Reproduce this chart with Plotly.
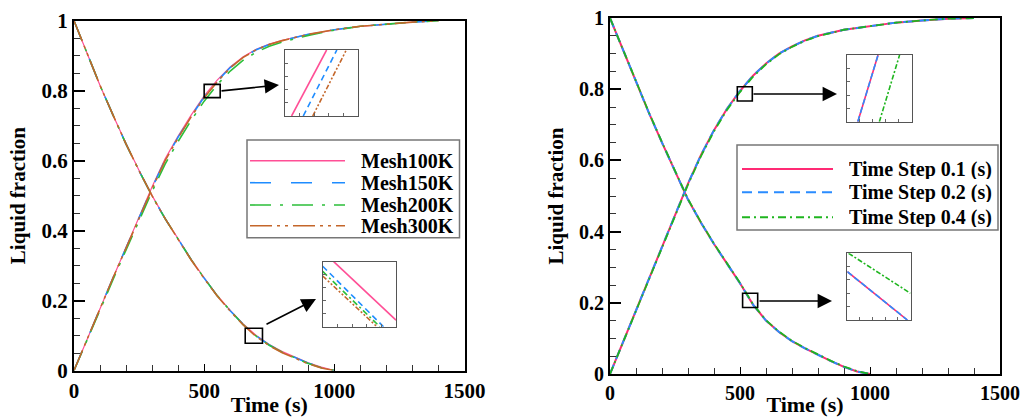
import plotly.graph_objects as go

# ---------------- data ----------------
t_melt = [0, 50, 100, 150, 200, 250, 300, 350, 400, 450, 500, 550, 600, 650, 700,
          750, 800, 900, 1000, 1100, 1200, 1300, 1400]
t_solid = [0, 50, 100, 150, 200, 250, 300, 350, 400, 450, 500, 550, 600, 650, 700,
           750, 800, 850, 900, 950, 1000]

mesh_names = ["Mesh100K", "Mesh150K", "Mesh200K", "Mesh300K"]
mesh_melt = [
    [0, 0.090, 0.178, 0.265, 0.352, 0.440, 0.525, 0.605, 0.670, 0.730, 0.785, 0.830, 0.868, 0.897, 0.918, 0.933, 0.944, 0.961, 0.974, 0.984, 0.991, 0.996, 1.0],
    [0, 0.090, 0.178, 0.265, 0.351, 0.438, 0.522, 0.602, 0.667, 0.727, 0.782, 0.827, 0.866, 0.895, 0.917, 0.932, 0.943, 0.961, 0.974, 0.984, 0.991, 0.996, 1.0],
    [0, 0.088, 0.175, 0.260, 0.345, 0.430, 0.512, 0.590, 0.655, 0.715, 0.770, 0.817, 0.856, 0.887, 0.910, 0.927, 0.939, 0.958, 0.973, 0.984, 0.991, 0.996, 1.0],
    [0, 0.090, 0.178, 0.265, 0.350, 0.437, 0.520, 0.600, 0.665, 0.725, 0.780, 0.825, 0.865, 0.895, 0.917, 0.932, 0.943, 0.961, 0.974, 0.984, 0.991, 0.996, 1.0],
]
mesh_solid = [
    [1, 0.905, 0.815, 0.730, 0.648, 0.572, 0.500, 0.435, 0.375, 0.318, 0.265, 0.215, 0.172, 0.133, 0.100, 0.074, 0.054, 0.037, 0.022, 0.010, 0],
    [1, 0.905, 0.815, 0.730, 0.647, 0.571, 0.499, 0.434, 0.374, 0.317, 0.264, 0.214, 0.171, 0.132, 0.099, 0.073, 0.053, 0.036, 0.021, 0.009, 0],
    [1, 0.905, 0.815, 0.730, 0.647, 0.571, 0.499, 0.434, 0.374, 0.317, 0.264, 0.214, 0.171, 0.131, 0.098, 0.072, 0.052, 0.035, 0.020, 0.008, 0],
    [1, 0.905, 0.815, 0.730, 0.647, 0.571, 0.499, 0.434, 0.373, 0.316, 0.263, 0.213, 0.170, 0.130, 0.097, 0.071, 0.051, 0.034, 0.019, 0.007, 0],
]

step_names = ["Time Step 0.1 (s)", "Time Step 0.2 (s)", "Time Step 0.4 (s)"]
step_melt = [
    [0, 0.090, 0.180, 0.270, 0.360, 0.450, 0.535, 0.615, 0.685, 0.745, 0.795, 0.838, 0.872, 0.900, 0.920, 0.937, 0.950, 0.967, 0.978, 0.987, 0.993, 0.998, 1.0],
    [0, 0.090, 0.180, 0.270, 0.360, 0.450, 0.535, 0.615, 0.685, 0.745, 0.795, 0.838, 0.872, 0.900, 0.920, 0.937, 0.950, 0.967, 0.978, 0.987, 0.993, 0.998, 1.0],
    [0, 0.089, 0.179, 0.268, 0.358, 0.447, 0.532, 0.612, 0.682, 0.742, 0.792, 0.835, 0.870, 0.898, 0.919, 0.936, 0.949, 0.967, 0.978, 0.987, 0.993, 0.998, 1.0],
]
step_solid = [
    [1, 0.910, 0.820, 0.733, 0.650, 0.570, 0.490, 0.425, 0.365, 0.310, 0.255, 0.195, 0.150, 0.118, 0.092, 0.072, 0.053, 0.036, 0.020, 0.007, 0],
    [1, 0.910, 0.820, 0.733, 0.650, 0.570, 0.490, 0.425, 0.365, 0.310, 0.255, 0.195, 0.150, 0.118, 0.092, 0.072, 0.053, 0.036, 0.020, 0.007, 0],
    [1, 0.911, 0.821, 0.734, 0.651, 0.571, 0.491, 0.426, 0.366, 0.311, 0.256, 0.196, 0.151, 0.119, 0.093, 0.073, 0.054, 0.037, 0.021, 0.008, 0],
]

# zoomed inset views (normalised inset coordinates: [x_start, x_end], [y_start, y_end])
inset_mesh_top_x = [[0.09, 0.57], [0.25, 0.71], None, [0.38, 0.84]]
inset_mesh_top_y = [[0.0, 1.0], [0.0, 1.0], None, [0.0, 1.0]]
inset_mesh_bot_x = [[0.15, 1.0], [0.0, 0.83], [0.0, 0.78], [0.0, 0.74]]
inset_mesh_bot_y = [[1.0, 0.10], [0.93, 0.0], [0.85, 0.0], [0.78, 0.0]]
inset_step_top_x = [[0.17, 0.48], [0.17, 0.48], [0.50, 0.81]]
inset_step_top_y = [[0.0, 1.0], [0.0, 1.0], [0.0, 1.0]]
inset_step_bot_x = [[0.0, 0.95], [0.0, 0.95], [0.02, 1.0]]
inset_step_bot_y = [[0.725, 0.0], [0.725, 0.0], [1.0, 0.40]]

# ---------------- styles ----------------
mesh_colors = ["#ff4f96", "#1e8cff", "#2cbf3a", "#c4662a"]
mesh_dash = ["solid", "21px,20px", "21px,9px,3px,9px", "22px,5px,3px,5px,3px,5px"]
mesh_width = [1.2, 1.6, 1.6, 1.6]
step_colors = ["#ff2a74", "#2a8cff", "#1fb51f"]
step_dash = ["solid", "10px,6px", "8px,4px,2px,4px"]
step_width = [2.0, 2.0, 1.8]

W, H = 1020, 417


def px(x):
    return x / W


def py(y):
    return 1 - y / H


fig = go.Figure()

# main curves, left
for i, name in enumerate(mesh_names):
    ln = dict(color=mesh_colors[i], dash=mesh_dash[i], width=mesh_width[i])
    fig.add_trace(go.Scatter(x=t_melt, y=mesh_melt[i], mode="lines", line=ln, name=name,
                             legendgroup=name, showlegend=False, xaxis="x", yaxis="y"))
    fig.add_trace(go.Scatter(x=t_solid, y=mesh_solid[i], mode="lines", line=ln, name=name,
                             legendgroup=name, showlegend=False, xaxis="x", yaxis="y"))
# main curves, right
for i, name in enumerate(step_names):
    ln = dict(color=step_colors[i], dash=step_dash[i], width=step_width[i])
    fig.add_trace(go.Scatter(x=t_melt, y=step_melt[i], mode="lines", line=ln, name=name,
                             legendgroup=name, showlegend=False, xaxis="x2", yaxis="y2"))
    fig.add_trace(go.Scatter(x=t_solid, y=step_solid[i], mode="lines", line=ln, name=name,
                             legendgroup=name, showlegend=False, xaxis="x2", yaxis="y2"))

# insets
inset_specs = [
    ("x3", "y3", inset_mesh_top_x, inset_mesh_top_y, mesh_colors, mesh_dash, mesh_width),
    ("x4", "y4", inset_mesh_bot_x, inset_mesh_bot_y, mesh_colors, mesh_dash, mesh_width),
    ("x5", "y5", inset_step_top_x, inset_step_top_y, step_colors, step_dash, step_width),
    ("x6", "y6", inset_step_bot_x, inset_step_bot_y, step_colors, step_dash, step_width),
]
inset_dash_scale = {"21px,20px": "6px,4px", "21px,9px,3px,9px": "6px,3px,2px,3px",
                    "22px,5px,3px,5px,3px,5px": "5px,2px,2px,2px,2px,2px",
                    "10px,6px": "6px,3px", "8px,4px,2px,4px": "5px,2px,2px,2px"}
for xa, ya, xs, ys, cols, dashes, widths in inset_specs:
    for i in range(len(xs)):
        if xs[i] is None:
            continue
        d = inset_dash_scale.get(dashes[i], dashes[i])
        fig.add_trace(go.Scatter(x=xs[i], y=ys[i], mode="lines",
                                 line=dict(color=cols[i], dash=d, width=1.6),
                                 showlegend=False, hoverinfo="skip", xaxis=xa, yaxis=ya))

FONT = "Liberation Serif, Times New Roman, serif"


def main_x(dom, anchor, size):
    return dict(domain=dom, anchor=anchor, range=[0, 1500], dtick=500, tick0=0,
                automargin=False,
                showline=True, linecolor="black", linewidth=2, mirror=True,
                ticks="inside", ticklen=7, tickwidth=1.2, tickcolor="black",
                minor=dict(dtick=100, ticks="inside", ticklen=6, tickwidth=1, tickcolor="#333"),
                showgrid=False, zeroline=False,
                tickfont=dict(family=FONT, size=size, color="black", weight="bold"),
                title=dict(text="Time (s)", font=dict(family=FONT, size=22, color="black", weight="bold"),
                           standoff=4))


def main_y(dom, anchor, size):
    return dict(domain=dom, anchor=anchor, range=[0, 1], dtick=0.2, tick0=0,
                automargin=False,
                showline=True, linecolor="black", linewidth=2, mirror=True,
                ticks="inside", ticklen=11, tickwidth=1.5, tickcolor="black",
                minor=dict(dtick=0.05, ticks="inside", ticklen=6, tickwidth=1, tickcolor="#333"),
                showgrid=False, zeroline=False,
                tickfont=dict(family=FONT, size=size, color="black", weight="bold"),
                title=dict(text="Liquid fraction", font=dict(family=FONT, size=21, color="black", weight="bold"),
                           standoff=10))


def inset_ax(dom, anchor):
    return dict(domain=dom, anchor=anchor, range=[0, 1], showline=True, linecolor="#555",
                automargin=False,
                linewidth=1, mirror=True, ticks="inside", ticklen=3, tickwidth=0.8,
                tickcolor="#666", dtick=0.2, showticklabels=False, showgrid=False,
                zeroline=False, fixedrange=True)


layout = dict(
    width=W, height=H, margin=dict(l=0, r=0, t=0, b=0, autoexpand=False),
    paper_bgcolor="white", plot_bgcolor="white", showlegend=False,
    xaxis=main_x([px(74), px(464.5)], "y", 21),
    yaxis=main_y([py(370.5), py(20.7)], "x", 21),
    xaxis2=main_x([px(610), px(1000)], "y2", 20),
    yaxis2=main_y([py(374), py(18)], "x2", 20),
    xaxis3=inset_ax([px(285), px(358)], "y3"),
    yaxis3=inset_ax([py(116), py(50)], "x3"),
    xaxis4=inset_ax([px(322.7), px(396)], "y4"),
    yaxis4=inset_ax([py(326.7), py(261.7)], "x4"),
    xaxis5=inset_ax([px(846.7), px(912)], "y5"),
    yaxis5=inset_ax([py(121.7), py(55)], "x5"),
    xaxis6=inset_ax([px(847.3), px(910.5)], "y6"),
    yaxis6=inset_ax([py(320), py(253.3)], "x6"),
)
fig.update_layout(**layout)

shapes = []
annotations = []
# zoom squares
for xr, yr, x0, x1, y0, y1 in [("x", "y", 500, 561.5, 0.780, 0.818),
                               ("x", "y", 657.7, 724, 0.0778, 0.1206),
                               ("x2", "y2", 489.6, 547.3, 0.767, 0.807),
                               ("x2", "y2", 510, 568, 0.187, 0.227)]:
    shapes.append(dict(type="rect", xref=xr, yref=yr, x0=x0, x1=x1, y0=y0, y1=y1,
                       line=dict(color="black", width=1.6)))
# arrows (tail -> head, in pixels)
for (tx, ty, hx, hy) in [(220, 91, 279, 85), (265, 325, 316, 299),
                         (752, 94, 837, 94), (758, 301, 832, 301)]:
    annotations.append(dict(x=px(hx), y=py(hy), ax=tx - hx, ay=ty - hy, xref="paper", yref="paper",
                            axref="pixel", ayref="pixel", text="", showarrow=True,
                            arrowhead=2, arrowsize=1.8, arrowwidth=1.6, arrowcolor="black"))

# legend boxes (drawn manually so line samples match the long reference samples)
shapes.append(dict(type="rect", xref="paper", yref="paper", x0=px(247), x1=px(459.5),
                   y0=py(237.7), y1=py(140), line=dict(color="#777", width=1.5), fillcolor="white",
                   layer="above"))
for i, name in enumerate(mesh_names):
    yrow = [160.7, 182.7, 205, 225.7][i]
    shapes.append(dict(type="line", xref="paper", yref="paper", x0=px(250), x1=px(345),
                       y0=py(yrow), y1=py(yrow),
                       line=dict(color=mesh_colors[i], dash=mesh_dash[i], width=1.6)))
    annotations.append(dict(x=px(455), y=py(yrow), xref="paper", yref="paper", text=name,
                            showarrow=False, xanchor="right", yanchor="middle",
                            height=18, borderpad=0, valign="middle",
                            font=dict(family=FONT, size=20, color="black", weight="bold")))

shapes.append(dict(type="rect", xref="paper", yref="paper", x0=px(737), x1=px(998),
                   y0=py(230), y1=py(145), line=dict(color="#777", width=1.5), fillcolor="white",
                   layer="above"))
for i, name in enumerate(step_names):
    yrow = [169, 192.3, 217.3][i]
    shapes.append(dict(type="line", xref="paper", yref="paper", x0=px(742), x1=px(833),
                       y0=py(yrow), y1=py(yrow),
                       line=dict(color=step_colors[i], dash=step_dash[i], width=2)))
    annotations.append(dict(x=px(993), y=py(yrow), xref="paper", yref="paper", text=name,
                            showarrow=False, xanchor="right", yanchor="middle",
                            height=20, borderpad=0, valign="middle",
                            font=dict(family=FONT, size=20, color="black", weight="bold")))

fig.update_layout(shapes=shapes, annotations=annotations)
fig.write_html("out.html")
